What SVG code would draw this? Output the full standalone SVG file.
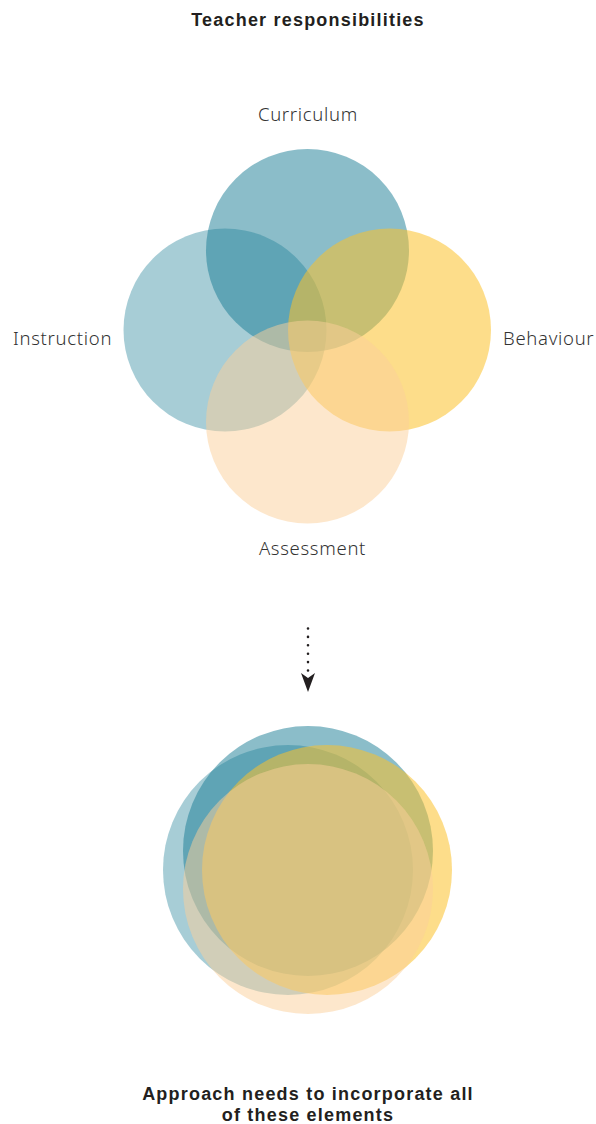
<svg xmlns="http://www.w3.org/2000/svg" width="596" height="1124" viewBox="0 0 596 1124">
  <style>
    .title { font-family: "Liberation Sans", Arial, sans-serif; font-weight: 700; font-size: 18px; letter-spacing: 1.2px; fill: #231f20; text-anchor: middle; }
    .label { font-family: "Noto Sans", "Liberation Sans", sans-serif; font-weight: 300; font-size: 18.5px; letter-spacing: 0.7px; fill: #333333; }
    .teal-a { fill: #177b93; opacity: 0.38; }
    .teal-b { fill: #177b93; opacity: 0.5; }
    .yellow { fill: #fbc12a; opacity: 0.55; }
    .peach { fill: #fbcf99; opacity: 0.5; }
  </style>
  <defs>
    <marker id="arrow" viewBox="0 0 19 14" refX="0" refY="7" markerWidth="19" markerHeight="14" markerUnits="userSpaceOnUse" orient="auto">
      <path d="M0,0 L5,7 L0,14 L19,7 Z" fill="#231f20"/>
    </marker>
  </defs>

  <text class="title" x="308" y="26">Teacher responsibilities</text>

  <g id="instruction">
    <circle class="teal-a" cx="225" cy="330" r="101.5"/>
    <text class="label" x="13" y="345">Instruction</text>
  </g>
  <g id="curriculum">
    <circle class="teal-b" cx="307.5" cy="250.5" r="101.5"/>
    <text class="label" x="308" y="121" text-anchor="middle">Curriculum</text>
  </g>
  <g id="behaviour">
    <circle class="yellow" cx="389.5" cy="330" r="101.5"/>
    <text class="label" x="503" y="345">Behaviour</text>
  </g>
  <g id="assessment">
    <circle class="peach" cx="307.5" cy="422" r="101.5"/>
    <text class="label" x="312.5" y="555" text-anchor="middle">Assessment</text>
  </g>

  <g id="connectors">
    <line x1="308" y1="628.5" x2="308" y2="673" stroke="#231f20" stroke-width="2.6" stroke-linecap="round" stroke-dasharray="0 8.4" marker-end="url(#arrow)"/>
  </g>

  <g id="combined">
    <circle class="teal-a" cx="288" cy="870" r="125"/>
    <circle class="teal-b" cx="308" cy="851" r="125"/>
    <circle class="yellow" cx="327" cy="870" r="125"/>
    <circle class="peach" cx="308" cy="889" r="125"/>
  </g>

  <g id="caption">
    <text class="title" x="308" y="1100">Approach needs to incorporate all</text>
    <text class="title" x="308" y="1121">of these elements</text>
  </g>
</svg>
